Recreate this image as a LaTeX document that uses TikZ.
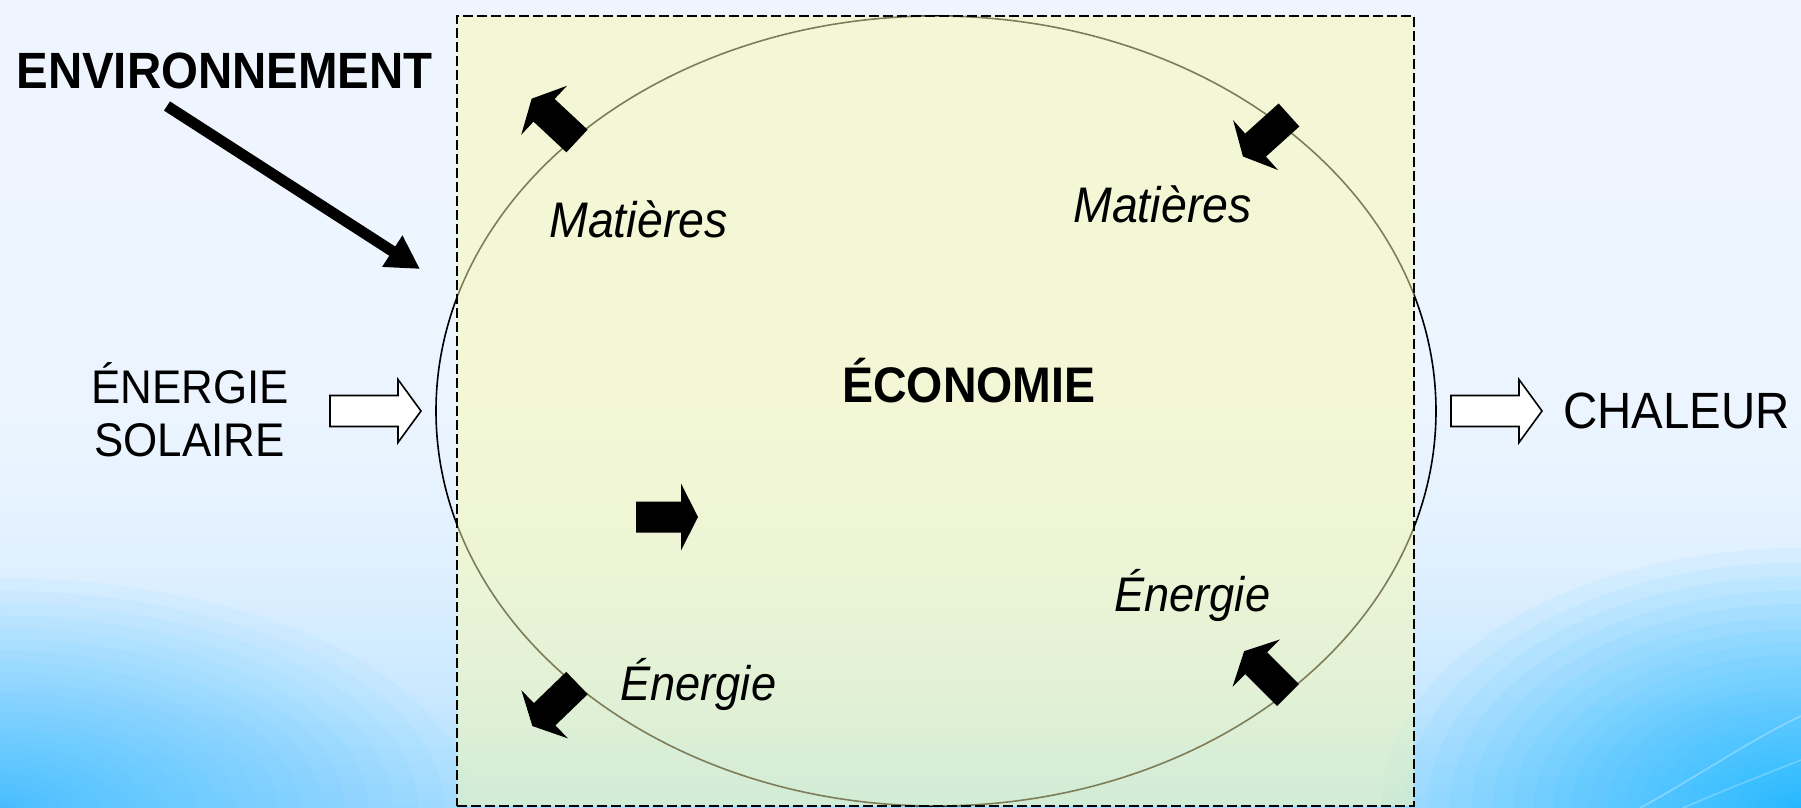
\documentclass[tikz,border=0pt]{standalone}
\usepackage{fontspec}
\setmainfont{Liberation Sans}[FakeStretch=0.93]
\usetikzlibrary{arrows.meta,shapes.geometric}
\definecolor{bgA}{RGB}{239,245,254}
\definecolor{bgB}{RGB}{236,245,255}
\definecolor{bgC}{RGB}{226,241,255}
\definecolor{bgD}{RGB}{200,232,255}
\definecolor{bgE}{RGB}{168,221,255}
\definecolor{cornerA}{RGB}{45,188,255}
\definecolor{cornerB}{RGB}{10,182,255}
\definecolor{boxfill}{RGB}{250,250,175}
\pgfdeclareverticalshading{bgshade}{100bp}{color(0bp)=(bgE); color(25bp)=(bgE); color(31.7bp)=(bgD); color(41bp)=(bgC); color(50bp)=(bgB); color(75bp)=(bgA); color(100bp)=(bgA)}
\tikzset{
  blockarrow/.pic={\fill[black] (0,-15.5) -- (45,-15.5) -- (45,-33.5) -- (62,0) -- (45,33.5) -- (45,15.5) -- (0,15.5) -- cycle;},
  hollowarrow/.pic={\draw[line width=0.8pt, fill=white, line join=miter] (0,-15.5) -- (68,-15.5) -- (68,-31.5) -- (91,0) -- (68,31.5) -- (68,15.5) -- (0,15.5) -- cycle;},
  lbl/.style={inner sep=0pt, anchor=base west, text=black},
  fbig/.style={font=\fontsize{25.5pt}{30pt}\selectfont},
  fbold/.style={font=\bfseries\fontsize{25.5pt}{30pt}\selectfont},
  fital/.style={font=\itshape\fontsize{25pt}{30pt}\selectfont},
}
\begin{document}
\begin{tikzpicture}[x=0.5pt,y=-0.5pt]
\useasboundingbox (0,0) rectangle (1801,808);
% background
\shade[shading=bgshade] (0,0) rectangle (1801,808);
\begin{scope}
\clip (0,0) rectangle (1801,808);
\foreach \k in {1,...,30} {
  \pgfmathsetmacro\f{(\k/30)^1.7}
  \fill[cornerA, opacity=0.045] (0,808) ellipse [x radius=\f*235pt, y radius=\f*115pt];
  \fill[cornerB, opacity=0.05] (1801,808) ellipse [x radius=\f*210pt, y radius=\f*130pt];
}
\draw[white, opacity=0.3, line width=0.8pt] (1640,808) .. controls (1700,775) and (1750,740) .. (1801,716);
\draw[white, opacity=0.25, line width=0.8pt] (1683,808) .. controls (1730,788) .. (1801,760);
\end{scope}
% economy ellipse and box
\node[draw=black, line width=0.8pt, ellipse, minimum width=500pt, minimum height=395pt, inner sep=0pt] (eco) at (936,411) {};
\node[rectangle, fill=boxfill, fill opacity=0.5, minimum width=478.5pt, minimum height=395pt, inner sep=0pt] (boxf) at (935.5,411) {};
\node[rectangle, draw=black, line width=0.9pt, dash pattern=on 5pt off 2pt, minimum width=478.5pt, minimum height=395pt, inner sep=0pt] (box) at (935.5,411) {};
% block arrows
\pic[rotate=137] (atl) at (577,141) {blockarrow};
\pic[rotate=222] (atr) at (1289,115) {blockarrow};
\pic[rotate=224] (abl) at (577,683) {blockarrow};
\pic[rotate=135] (abr) at (1288,695) {blockarrow};
\pic (amid) at (636,517) {blockarrow};
% hollow arrows
\pic (hin) at (330,411) {hollowarrow};
\pic (hout) at (1451,411) {hollowarrow};
% environment arrow
\coordinate (envs) at (167,106);
\coordinate (envt) at (420,269);
\draw[line width=5.5pt, -{Triangle[length=16.5pt, width=17.5pt]}] (envs) -- (envt);
% texts
\node[lbl, fbold] (env) at (16,89) {ENVIRONNEMENT};
\node[lbl, font=\bfseries\fontsize{25pt}{30pt}\selectfont] (ecot) at (842,402) {ÉCONOMIE};
\node[lbl, font=\fontsize{23.6pt}{28pt}\selectfont] (sol1) at (91,403) {ÉNERGIE};
\node[lbl, font=\fontsize{23.6pt}{28pt}\selectfont] (sol2) at (94,456) {SOLAIRE};
\node[lbl, fbig] (chal) at (1563,428) {CHALEUR};
\node[lbl, fital] (mat1) at (549,237) {Matières};
\node[lbl, fital] (mat2) at (1073,222) {Matières};
\node[lbl, font=\itshape\fontsize{24.3pt}{30pt}\selectfont] (ene1) at (1114,611) {Énergie};
\node[lbl, font=\itshape\fontsize{24.3pt}{30pt}\selectfont] (ene2) at (620,700) {Énergie};
\end{tikzpicture}
\end{document}
